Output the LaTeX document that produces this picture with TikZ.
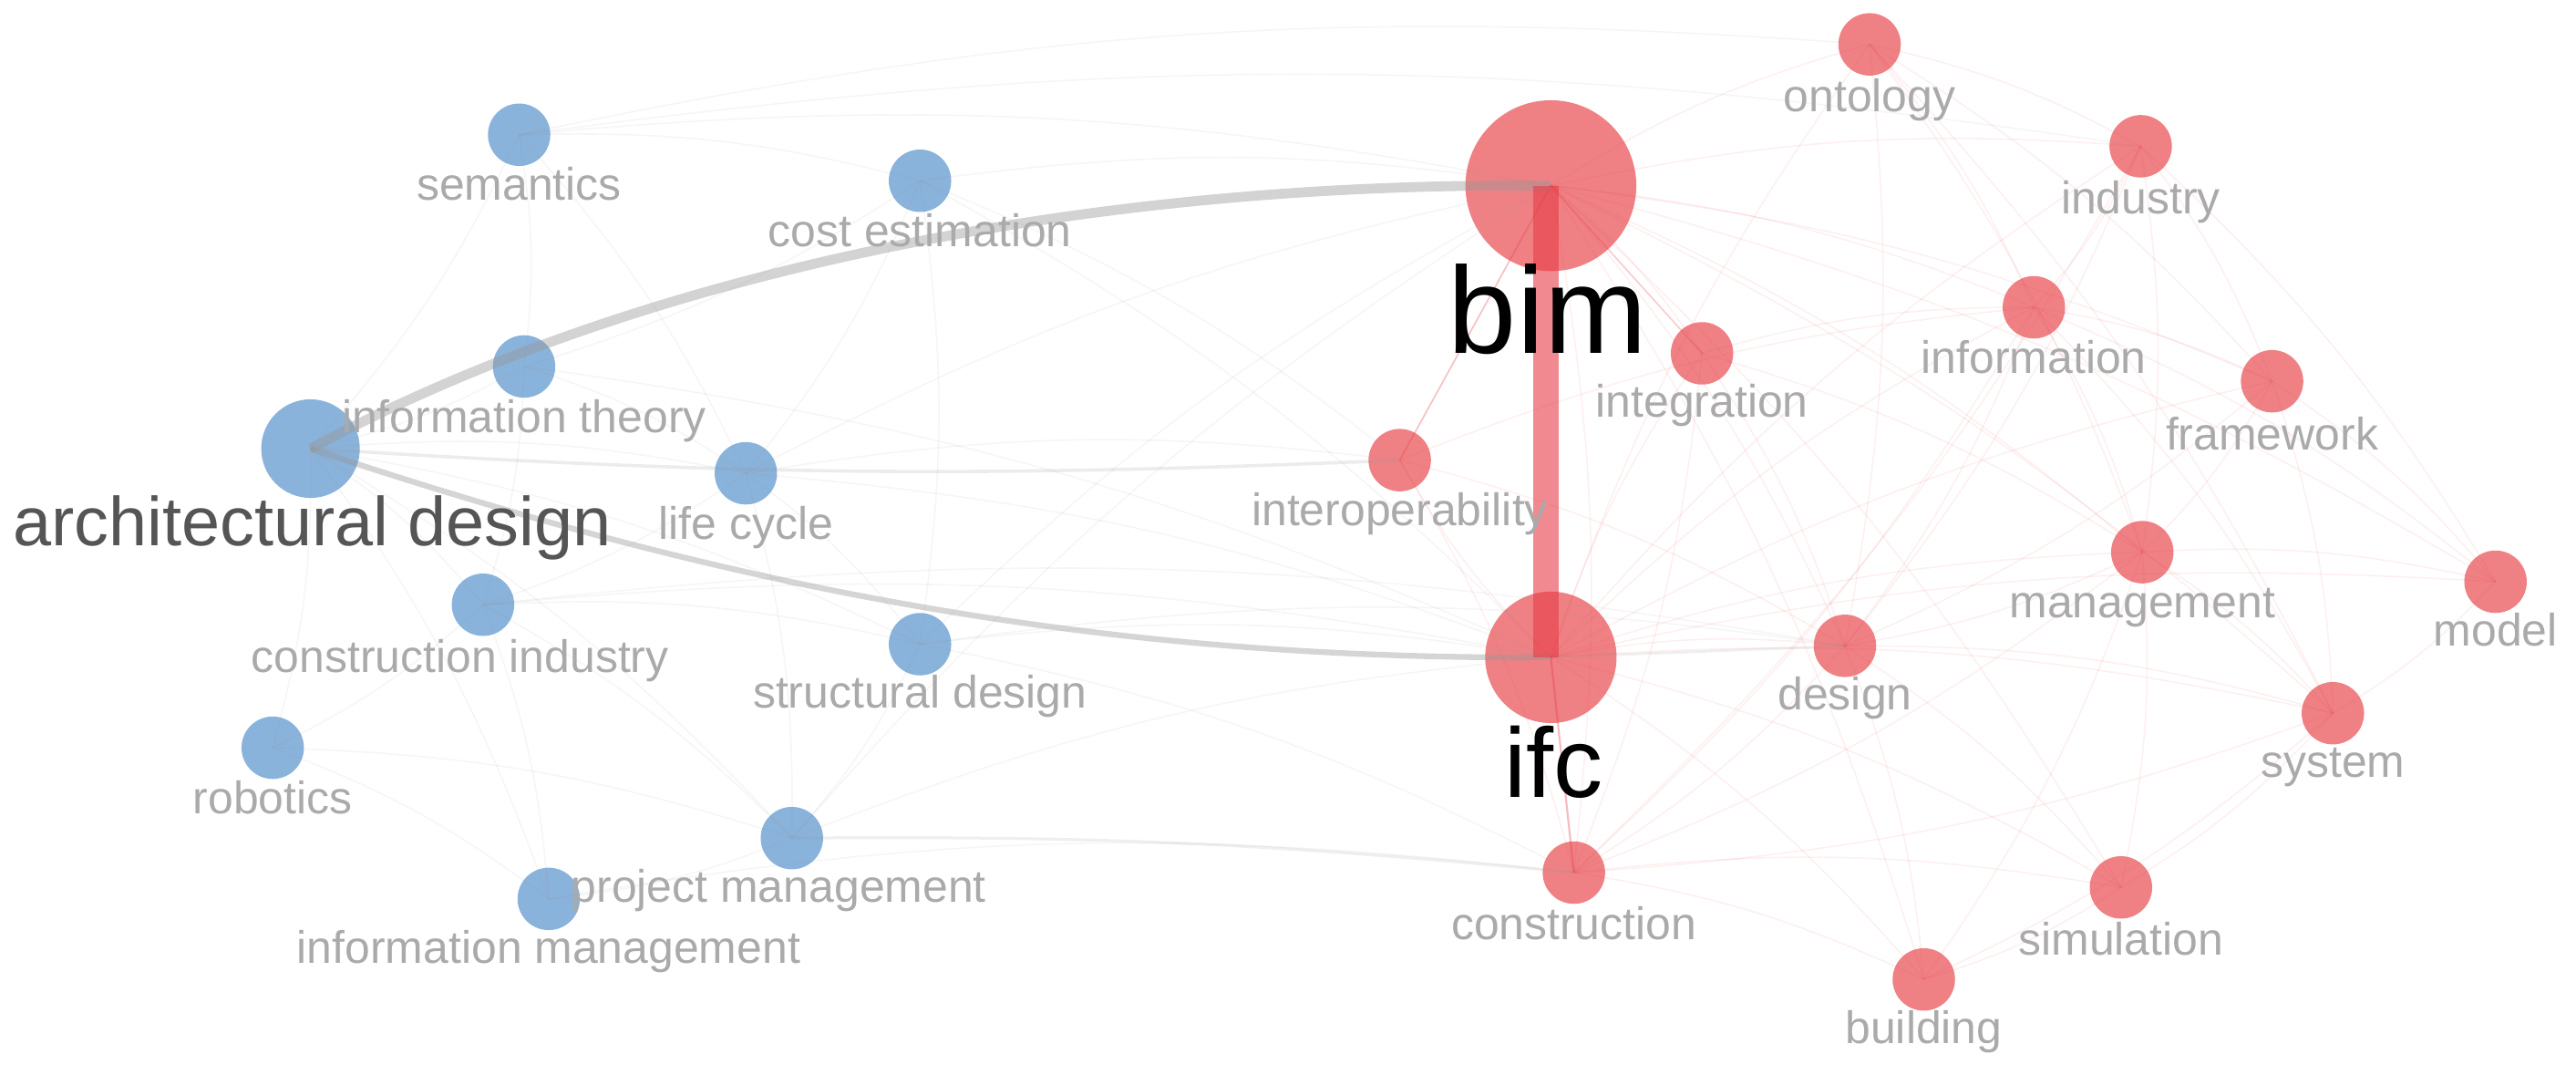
\documentclass[tikz,border=0pt]{standalone}
\usepackage{fontspec}
\setmainfont{Liberation Sans}
\definecolor{bluenode}{RGB}{128,172,216}
\definecolor{rednode}{RGB}{238,118,122}
\definecolor{labgray}{RGB}{170,170,170}
\definecolor{darklab}{RGB}{85,85,85}
\definecolor{edgegray}{RGB}{150,150,150}
\definecolor{edgered}{RGB}{230,60,70}
\tikzset{
  bnode/.style={circle,fill=bluenode,fill opacity=0.92,inner sep=0,minimum size=38},
  rnode/.style={circle,fill=rednode,fill opacity=0.92,inner sep=0,minimum size=38},
  lab/.style={font=\fontsize{27.7}{32}\selectfont,text=labgray,anchor=base,inner sep=0},
  fred/.style={draw=edgered,opacity=0.08,line width=0.9,bend left=8},
  fgray/.style={draw=edgegray,opacity=0.09,line width=0.9,bend left=8},
}
\begin{document}
\begin{tikzpicture}[x=1pt,y=-1pt]
\useasboundingbox (0,0) rectangle (1568,654);
% blue nodes
\node[bnode] (sem) at (316,82) {};
\node[bnode] (cost) at (560,110) {};
\node[bnode] (it) at (319,223) {};
\node[bnode,minimum size=60] (ad) at (189,273) {};
\node[bnode] (lc) at (454,288) {};
\node[bnode] (ci) at (294,368) {};
\node[bnode] (sd) at (560,392) {};
\node[bnode] (rob) at (166,455) {};
\node[bnode] (pm) at (482,510) {};
\node[bnode] (im) at (334,547) {};
% red nodes
\node[rnode,minimum size=104] (bim) at (944,113) {};
\node[rnode,minimum size=80] (ifc) at (944,400) {};
\node[rnode] (ont) at (1138,27) {};
\node[rnode] (ind) at (1303,89) {};
\node[rnode] (integ) at (1036,215) {};
\node[rnode] (info) at (1238,187) {};
\node[rnode] (frame) at (1383,232) {};
\node[rnode] (interop) at (852,280) {};
\node[rnode] (mgmt) at (1304,336) {};
\node[rnode] (model) at (1519,354) {};
\node[rnode] (design) at (1123,393) {};
\node[rnode] (sys) at (1420,434) {};
\node[rnode] (constr) at (958,531) {};
\node[rnode] (sim) at (1291,540) {};
\node[rnode] (bldg) at (1171,596) {};
% faint red edges
\foreach \a/\b in {bim/ont,bim/ind,bim/integ,bim/info,bim/frame,bim/mgmt,bim/model,bim/design,bim/sys,bim/constr,bim/sim,bim/bldg,
  ifc/ont,ifc/ind,ifc/integ,ifc/info,ifc/frame,ifc/interop,ifc/mgmt,ifc/model,ifc/design,ifc/sys,ifc/sim,ifc/bldg,
  ont/ind,ont/info,ont/mgmt,ont/design,ont/frame,ont/sys,ind/info,ind/mgmt,ind/frame,ind/design,ind/constr,ind/model,
  info/frame,info/mgmt,info/design,info/sys,info/constr,info/model,frame/mgmt,frame/sys,frame/model,frame/design,
  mgmt/model,mgmt/sys,mgmt/design,mgmt/constr,mgmt/sim,mgmt/bldg,model/sys,design/sys,design/constr,design/bldg,design/sim,
  sys/constr,sys/sim,sys/bldg,constr/sim,constr/bldg,sim/bldg,integ/design,integ/info,integ/mgmt,integ/constr,
  interop/design,interop/constr,interop/info}
  \draw[fred] (\a.center) to (\b.center);
% faint gray edges
\foreach \a/\b in {sem/it,sem/ad,sem/cost,sem/lc,sem/bim,sem/ont,cost/bim,cost/lc,cost/it,cost/sd,cost/ifc,
  it/ad,it/lc,it/ci,it/ifc,ad/lc,ad/ci,ad/rob,ad/sd,ad/im,ad/pm,lc/ci,lc/sd,lc/bim,lc/ifc,lc/pm,
  ci/rob,ci/im,ci/sd,ci/pm,ci/ifc,sd/pm,sd/ifc,sd/bim,sd/constr,sd/design,rob/im,rob/pm,pm/im,pm/ifc,pm/bim,im/constr,
  lc/interop,cost/interop,sem/ind,ci/design}
  \draw[fgray] (\a.center) to (\b.center);
% stronger edges
\draw[edgered,opacity=0.3,line width=1] (bim.center) -- (interop.center);
\draw[edgered,opacity=0.25,line width=1] (bim.center) -- (integ.center);
\draw[edgered,opacity=0.35,line width=1.2] (ifc.center) -- (constr.center);
\draw[edgegray,opacity=0.18,line width=2] (ad.center) to[bend right=3] (interop.center);
\draw[edgegray,opacity=0.15,line width=1.8] (pm.center) to[bend left=3] (constr.center);
\draw[edgegray,opacity=0.15,line width=1.6] (ifc.center) -- (design.center);
\draw[edgegray,opacity=0.42,line width=6] (ad.center) .. controls (380,170) and (650,110) .. (bim.center);
\draw[edgegray,opacity=0.4,line width=3.5] (ad.center) .. controls (420,350) and (650,402) .. (ifc.center);
\draw[edgered,opacity=0.6,line width=15] ([xshift=-3]bim.center) -- ([xshift=-3]ifc.center);
% labels
\node[lab] (lsem) at (316,122) {semantics};
\node[lab] (lcost) at (560,150) {cost estimation};
\node[lab] (lit) at (319,263) {information theory};
\node[lab,font=\fontsize{42}{46}\selectfont,text=darklab] (lad) at (190,332) {architectural design};
\node[lab] (llc) at (454,328) {life cycle};
\node[lab] (lci) at (280,409) {construction industry};
\node[lab] (lsd) at (560,431) {structural design};
\node[lab] (lrob) at (166,495) {robotics};
\node[lab] (lpm) at (474,549) {project management};
\node[lab] (lim) at (334,586) {information management};
\node[lab,font=\fontsize{75}{80}\selectfont,text=black] (lbim) at (942,215) {bim};
\node[lab,font=\fontsize{60}{64}\selectfont,text=black] (lifc) at (946,485) {ifc};
\node[lab] (lont) at (1138,68) {ontology};
\node[lab] (lind) at (1303,130) {industry};
\node[lab] (linteg) at (1036,254) {integration};
\node[lab] (linfo) at (1238,227) {information};
\node[lab] (lframe) at (1383,274) {framework};
\node[lab] (linterop) at (852,320) {interoperability};
\node[lab] (lmgmt) at (1304,376) {management};
\node[lab] (lmodel) at (1519,393) {model};
\node[lab] (ldesign) at (1123,432) {design};
\node[lab] (lsys) at (1420,473) {system};
\node[lab] (lconstr) at (958,572) {construction};
\node[lab] (lsim) at (1291,581) {simulation};
\node[lab] (lbldg) at (1171,635) {building};
\end{tikzpicture}
\end{document}
